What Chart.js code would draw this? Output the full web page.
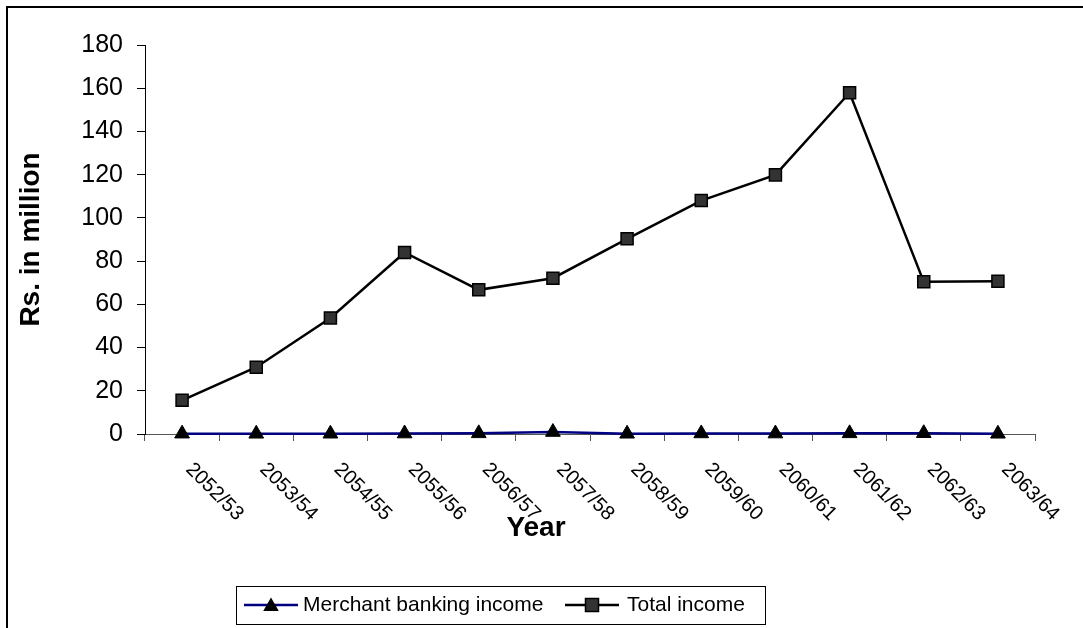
<!DOCTYPE html>
<html>
<head>
<meta charset="utf-8">
<title>Merchant banking income vs total income</title>
<script src="https://cdn.jsdelivr.net/npm/chart.js@4.4.1/dist/chart.umd.min.js"></script>
<style>
  html, body { margin: 0; padding: 0; background: #fff; }
  #wrap { width: 1083px; height: 628px; }
</style>
</head>
<body>
<div id="wrap"><canvas id="income-chart" width="1083" height="628"></canvas></div>
<script>
// Fiscal years (B.S.)
const years = ['2052/53', '2053/54', '2054/55', '2055/56', '2056/57', '2057/58',
               '2058/59', '2059/60', '2060/61', '2061/62', '2062/63', '2063/64'];

// Rs. in million
const merchantIncome = [0.15, 0.1, 0.12, 0.2, 0.3, 0.9, 0.1, 0.25, 0.2, 0.3, 0.35, 0.1];
const totalIncome = [15.6, 30.9, 53.7, 84.0, 66.7, 72.1, 90.3, 108.0, 119.9, 157.9, 70.4, 70.7];

const yMin = 0;
const yMax = 180;
const yStep = 20;

const FONT = 'Arial, "Liberation Sans", sans-serif';

// draws the outer frame, slanted year labels, the x title and the boxed legend
const extras = {
  id: 'extras',
  beforeDraw(chart) {
    const ctx = chart.ctx;
    ctx.save();
    ctx.fillStyle = '#fff';
    ctx.fillRect(0, 0, chart.width, chart.height);
    ctx.strokeStyle = '#000';
    ctx.lineWidth = 2;
    ctx.strokeRect(7, 7, chart.width + 20, chart.height + 20);
    ctx.restore();
  },
  afterDraw(chart) {
    const ctx = chart.ctx;
    const xs = chart.scales.x;
    ctx.save();

    // year labels, running down to the right from each point
    const fs = 20;
    ctx.font = fs + 'px ' + FONT;
    ctx.fillStyle = '#000';
    ctx.textAlign = 'left';
    ctx.textBaseline = 'alphabetic';
    years.forEach((y, i) => {
      const px = xs.getPixelForValue(i);
      ctx.save();
      ctx.translate(px + 13, chart.chartArea.bottom + 26);
      ctx.rotate(Math.PI / 4);
      ctx.fillText(y, 0, fs * 0.716);
      ctx.restore();
    });

    // x axis title
    ctx.font = 'bold 28px ' + FONT;
    ctx.textAlign = 'center';
    ctx.textBaseline = 'middle';
    ctx.fillText('Year', 536, 528);

    // legend
    const box = { x: 236, y: 586, w: 529, h: 38 };
    const cy = box.y + box.h / 2;
    ctx.lineWidth = 1;
    ctx.strokeStyle = '#000';
    ctx.strokeRect(box.x + 0.5, box.y + 0.5, box.w, box.h);

    ctx.font = '21px ' + FONT;
    ctx.textAlign = 'left';
    ctx.textBaseline = 'middle';

    // Merchant banking income
    ctx.lineWidth = 2.5;
    ctx.strokeStyle = '#000080';
    ctx.beginPath();
    ctx.moveTo(244, cy);
    ctx.lineTo(298, cy);
    ctx.stroke();
    drawTriangle(ctx, 271, cy + 1.5, 9);
    ctx.fillStyle = '#000';
    ctx.fillText('Merchant banking income', 303, cy);

    // Total income
    ctx.lineWidth = 2.5;
    ctx.strokeStyle = '#000';
    ctx.beginPath();
    ctx.moveTo(565, cy);
    ctx.lineTo(619, cy);
    ctx.stroke();
    ctx.fillStyle = '#333';
    ctx.fillRect(585.5, cy - 6.5, 13, 13);
    ctx.lineWidth = 1.5;
    ctx.strokeRect(585.5, cy - 6.5, 13, 13);
    ctx.fillStyle = '#000';
    ctx.fillText('Total income', 627, cy);

    ctx.restore();
  }
};

function drawTriangle(ctx, x, y, r) {
  ctx.fillStyle = '#000';
  ctx.beginPath();
  ctx.moveTo(x, y - r);
  ctx.lineTo(x + r * 0.866, y + r * 0.5);
  ctx.lineTo(x - r * 0.866, y + r * 0.5);
  ctx.closePath();
  ctx.fill();
}

new Chart(document.getElementById('income-chart'), {
  type: 'line',
  data: {
    labels: years,
    datasets: [
      {
        label: 'Merchant banking income',
        data: merchantIncome,
        borderColor: '#000080',
        borderWidth: 2.5,
        pointStyle: 'triangle',
        pointRadius: 8.5,
        pointBackgroundColor: '#000',
        pointBorderColor: '#000',
        pointBorderWidth: 1,
        tension: 0,
        clip: false,
      },
      {
        label: 'Total income',
        data: totalIncome,
        borderColor: '#000',
        borderWidth: 2.5,
        pointStyle: 'rect',
        pointRadius: 8.5,
        pointBackgroundColor: '#333',
        pointBorderColor: '#000',
        pointBorderWidth: 1.5,
        tension: 0,
        clip: false,
      },
    ],
  },
  options: {
    responsive: false,
    animation: false,
    events: [],
    layout: { padding: { left: 0, top: 45, right: 48, bottom: 0 } },
    plugins: {
      legend: { display: false },
      tooltip: { enabled: false },
    },
    scales: {
      x: {
        type: 'category',
        offset: true,
        grid: {
          offset: true,
          drawOnChartArea: false,
          drawTicks: true,
          tickLength: 7,
          color: '#555',
        },
        border: { display: true, color: '#555', width: 1 },
        ticks: { display: false },
        afterFit: (s) => { s.height = 194; },
      },
      y: {
        min: yMin,
        max: yMax,
        grid: {
          drawOnChartArea: false,
          drawTicks: true,
          tickLength: 8,
          color: '#000',
        },
        border: { display: true, color: '#000', width: 1 },
        ticks: {
          stepSize: yStep,
          padding: 14,
          color: '#000',
          font: { family: FONT, size: 25 },
        },
        title: {
          display: true,
          text: 'Rs. in million',
          color: '#000',
          font: { family: FONT, size: 28, weight: 'bold' },
          padding: { top: 14, bottom: 0 },
        },
        afterFit: (s) => { s.width = 145; },
      },
    },
  },
  plugins: [extras],
});
</script>
</body>
</html>
